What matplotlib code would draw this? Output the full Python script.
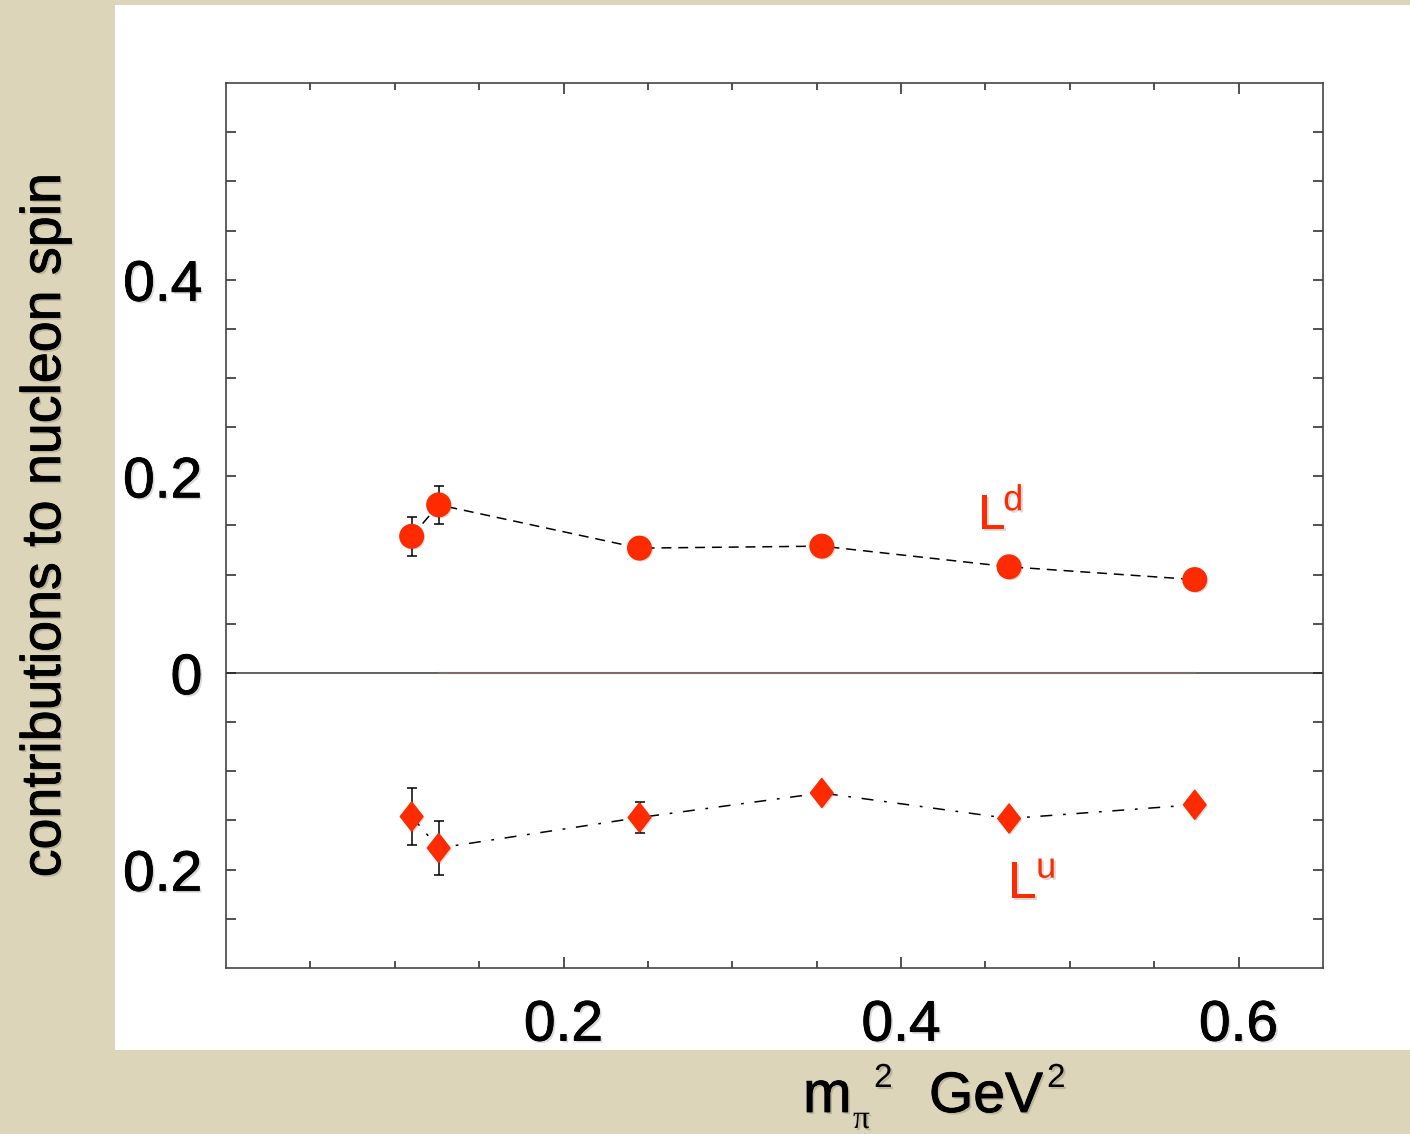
import numpy as np
import matplotlib
matplotlib.use("Agg")
import matplotlib.pyplot as plt
import matplotlib.patheffects as pe
from matplotlib.patches import Rectangle
from matplotlib.path import Path

# pion mass squared (GeV^2)
mpi2 = [0.110, 0.126, 0.245, 0.353, 0.464, 0.574]

# orbital angular momentum of d quarks
L_d = [0.139, 0.171, 0.127, 0.129, 0.108, 0.095]
L_d_err = [0.020, 0.019, 0.0, 0.0, 0.0, 0.0]

# orbital angular momentum of u quarks
L_u = [-0.146, -0.178, -0.147, -0.122, -0.148, -0.134]
L_u_err = [0.029, 0.027, 0.016, 0.0, 0.0, 0.0]

yticks = [-0.2, 0.0, 0.2, 0.4]
ytick_labels = ["0.2", "0", "0.2", "0.4"]
xticks = [0.2, 0.4, 0.6]
xtick_labels = ["0.2", "0.4", "0.6"]

RED = "#fe2a00"
FONT = "Liberation Sans"


# soft drop shadow, optionally with slightly heavier glyphs
def text_fx(color, stroke=0.0):
    fx = [pe.SimplePatchShadow(offset=(1.5, -1.5), shadow_rgbFace="#000000", alpha=0.15)]
    if stroke > 0:
        fx.append(pe.withStroke(linewidth=stroke, foreground=color))
    else:
        fx.append(pe.Normal())
    return fx


fig = plt.figure(figsize=(14.1, 11.34), dpi=100, facecolor="#ddd5b9")
fig.patches.append(Rectangle((0.0816, 0.0741), 1 - 0.0816, 0.9956 - 0.0741,
                             transform=fig.transFigure, facecolor="white",
                             edgecolor="none", zorder=-5))

ax = fig.add_axes([0.1603, 0.1464, 0.778, 0.7804])
ax.set_zorder(2)
ax.set_facecolor("white")
ax.set_xlim(0.0, 0.65)
ax.set_ylim(-0.3, 0.6)

# zero line
ax.axhline(0, color="#555555", lw=1.3, zorder=1)
ax.plot([mpi2[1], mpi2[-1]], [0, 0], color="#9a7a6a", lw=1.6, alpha=0.45, zorder=1)

# connecting lines
ax.plot(mpi2, L_d, color="black", lw=1.1, dashes=(6.5, 4.5), zorder=2)
ax.plot(mpi2, L_u, color="black", lw=1.1, dashes=(7.8, 7.0, 1.8, 7.0), zorder=2)

# error bars
ax.errorbar(mpi2, L_d, yerr=L_d_err, fmt="none", ecolor="black",
            elinewidth=1.1, capsize=3.6, capthick=1.1, zorder=3)
ax.errorbar(mpi2, L_u, yerr=L_u_err, fmt="none", ecolor="black",
            elinewidth=1.1, capsize=3.6, capthick=1.1, zorder=3)

# markers
diamond = Path([(-0.39, 0.0), (0.0, 0.5), (0.39, 0.0), (0.0, -0.5), (-0.39, 0.0)],
               [Path.MOVETO, Path.LINETO, Path.LINETO, Path.LINETO, Path.CLOSEPOLY])
shadow = [pe.SimplePatchShadow(offset=(1.2, -1.2), shadow_rgbFace="#000000", alpha=0.15),
          pe.Normal()]
ax.plot(mpi2, L_d, linestyle="none", marker="o", ms=17, mfc=RED, mec=RED, zorder=4,
        path_effects=shadow)
ax.plot(mpi2, L_u, linestyle="none", marker=diamond, ms=21, mfc=RED, mec=RED, zorder=4,
        path_effects=shadow)

# curve labels
for x, y, s, size in [(0.4456, 0.1462, "L", 36), (0.4605, 0.1655, "d", 26),
                      (0.4634, -0.2284, "L", 37), (0.4800, -0.2081, "u", 26)]:
    ax.text(x, y, s, color=RED, fontsize=size, family=FONT, va="baseline", ha="left",
            path_effects=text_fx(RED))

# ticks
ax.set_xticks(xticks)
ax.set_xticklabels(xtick_labels)
ax.set_xticks(np.arange(0.05, 0.65, 0.05), minor=True)
ax.set_yticks(yticks)
ax.set_yticklabels(ytick_labels)
ax.set_yticks(np.arange(-0.25, 0.6, 0.05), minor=True)

ax.tick_params(axis="both", which="both", direction="in", top=True, right=True,
               color="#222222", width=1.1)
ax.tick_params(axis="x", which="major", length=8, pad=22)
ax.tick_params(axis="x", which="minor", length=5)
ax.tick_params(axis="y", which="major", length=7.5, pad=17)
ax.tick_params(axis="y", which="minor", length=7)
for lab in ax.get_xticklabels() + ax.get_yticklabels():
    lab.set_fontsize(41)
    lab.set_fontfamily(FONT)
    lab.set_path_effects(text_fx("black", 0.6))

for sp in ax.spines.values():
    sp.set_color("#444444")
    sp.set_linewidth(1.2)

# axis titles
fig.text(0.0326, 0.537, "contributions to nucleon spin", rotation=90,
         fontsize=40, family=FONT, ha="center", va="center",
         path_effects=text_fx("black", 0.6))

for x_px, y_px, s, size, fam, stroke in [(803, 1112, "m", 42, FONT, 0.6),
                                         (853, 1128, "\u03c0", 24, "Liberation Serif", 0.0),
                                         (874, 1087, "2", 24, FONT, 0.0),
                                         (929, 1112, "GeV", 41, FONT, 0.6),
                                         (1047, 1087, "2", 24, FONT, 0.0)]:
    fig.text(x_px / 1410, 1 - y_px / 1134, s, fontsize=size, family=fam,
             va="baseline", ha="left", path_effects=text_fx("black", stroke))

fig.savefig("out.png", dpi=100, facecolor=fig.get_facecolor())
